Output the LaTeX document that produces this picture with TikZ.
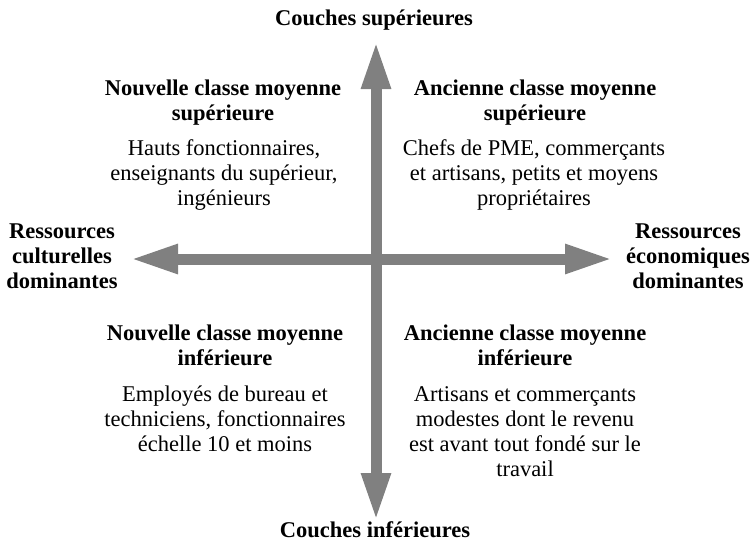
\documentclass[tikz,border=0pt]{standalone}
\usepackage{fontspec}
\setmainfont{Liberation Serif}
\usetikzlibrary{arrows.meta}
\definecolor{axisgray}{RGB}{128,128,128}
\tikzset{
  lbl/.style={inner sep=0pt, anchor=base, align=center, font=\fontsize{22.5}{25}\selectfont},
  ttl/.style={lbl, font=\fontsize{22.5}{25}\selectfont\bfseries},
  axis/.style={draw=axisgray, line width=11pt,
    {Triangle[length=48pt,width=27pt]}-{Triangle[length=48pt,width=27pt]}},
}
\begin{document}
\begin{tikzpicture}[x=1pt,y=-1pt]
\useasboundingbox (0,0) rectangle (752,541);
\coordinate (top) at (376,41);
\coordinate (bot) at (376,521);
\coordinate (lft) at (130,259);
\coordinate (rgt) at (613,259);
\draw[axis] (lft) -- (rgt);
\draw[axis] (bot) -- (top);

\node[ttl] (tl) at (374,25) {Couches supérieures};
\node[ttl] (bl) at (375,537) {Couches inférieures};

\node[ttl] (nwt) at (223,120) {Nouvelle classe moyenne\\supérieure};
\node[lbl] (nwb) at (224,205) {Hauts fonctionnaires,\\enseignants du supérieur,\\ingénieurs};

\node[ttl] (net) at (535,120) {Ancienne classe moyenne\\supérieure};
\node[lbl] (neb) at (534,205) {Chefs de PME, commerçants\\et artisans, petits et moyens\\propriétaires};

\node[ttl] (wl) at (62,288) {Ressources\\culturelles\\dominantes};
\node[ttl] (el) at (688,288) {Ressources\\économiques\\dominantes};

\node[ttl] (swt) at (225,365) {Nouvelle classe moyenne\\inférieure};
\node[lbl] (swb) at (225,451) {Employés de bureau et\\techniciens, fonctionnaires\\échelle 10 et moins};

\node[ttl] (set) at (525,365) {Ancienne classe moyenne\\inférieure};
\node[lbl] (seb) at (525,476) {Artisans et commerçants\\modestes dont le revenu\\est avant tout fondé sur le\\travail};
\end{tikzpicture}
\end{document}
